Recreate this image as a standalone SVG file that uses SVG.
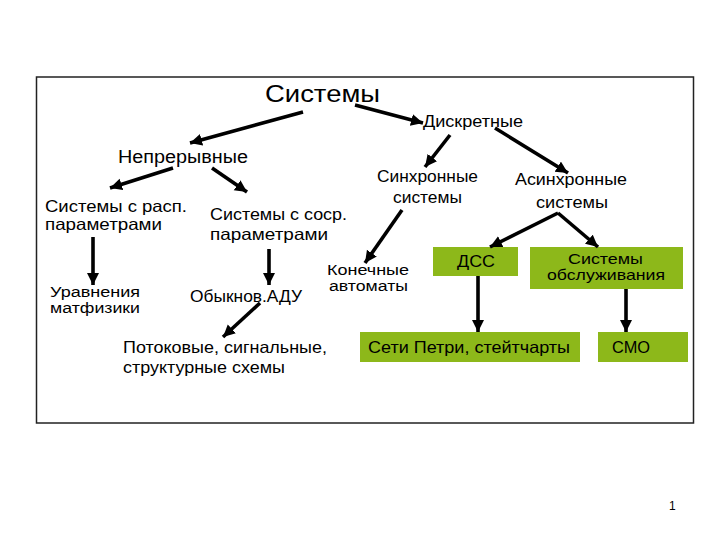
<svg xmlns="http://www.w3.org/2000/svg" width="720" height="540" viewBox="0 0 720 540">
<style>
text{font-family:"Liberation Sans",Arial,sans-serif;fill:#000}
.t16{font-size:16.5px}
.t15{font-size:15px}
.t14{font-size:14px}
.box{fill:#8DB81A}
.c line{stroke:#000;stroke-width:3.6;marker-end:url(#ah)}
</style>
<defs>
<marker id="ah" markerUnits="userSpaceOnUse" markerWidth="14" markerHeight="14" refX="12" refY="6" orient="auto"><path d="M0,0 L12,6 L0,12 Z" fill="#000"/></marker>
</defs>
<rect width="720" height="540" fill="#fff"/>
<rect x="36.5" y="77" width="657" height="346" fill="none" stroke="#222" stroke-width="1.5"/>
<g id="n-sys"><text x="265" y="102" font-size="24" textLength="115" lengthAdjust="spacingAndGlyphs">Системы</text></g>
<g id="n-disc"><text class="t16" x="423" y="127" textLength="100" lengthAdjust="spacingAndGlyphs">Дискретные</text></g>
<g id="n-cont"><text x="118" y="163" font-size="18" textLength="130" lengthAdjust="spacingAndGlyphs">Непрерывные</text></g>
<g id="n-rasp"><text class="t16" x="45" y="212" textLength="142" lengthAdjust="spacingAndGlyphs">Системы с расп.</text><text class="t16" x="45" y="230" textLength="117" lengthAdjust="spacingAndGlyphs">параметрами</text></g>
<g id="n-sosr"><text class="t16" x="210" y="220" textLength="137" lengthAdjust="spacingAndGlyphs">Системы с соср.</text><text class="t16" x="210" y="240" textLength="118" lengthAdjust="spacingAndGlyphs">параметрами</text></g>
<g id="n-sync"><text class="t16" x="377" y="182" textLength="101" lengthAdjust="spacingAndGlyphs">Синхронные</text><text class="t16" x="393" y="203" textLength="69" lengthAdjust="spacingAndGlyphs">системы</text></g>
<g id="n-async"><text class="t16" x="515" y="185" textLength="112" lengthAdjust="spacingAndGlyphs">Асинхронные</text><text class="t16" x="536" y="208" textLength="72" lengthAdjust="spacingAndGlyphs">системы</text></g>
<g id="n-urav"><text class="t14" x="50" y="297" textLength="90" lengthAdjust="spacingAndGlyphs">Уравнения</text><text class="t14" x="50" y="313" textLength="90" lengthAdjust="spacingAndGlyphs">матфизики</text></g>
<g id="n-adu"><text class="t16" x="190" y="302" textLength="112" lengthAdjust="spacingAndGlyphs">Обыкнов.АДУ</text></g>
<g id="n-kon"><text class="t14" x="327" y="275" textLength="82" lengthAdjust="spacingAndGlyphs">Конечные</text><text class="t14" x="329" y="291" textLength="79" lengthAdjust="spacingAndGlyphs">автоматы</text></g>
<g id="n-potok"><text class="t16" x="123" y="353" textLength="204" lengthAdjust="spacingAndGlyphs">Потоковые, сигнальные,</text><text class="t16" x="123" y="373" textLength="162" lengthAdjust="spacingAndGlyphs">структурные схемы</text></g>
<g id="n-dss"><rect class="box" x="433" y="247" width="85" height="29"/><text class="t16" x="457" y="267" textLength="38" lengthAdjust="spacingAndGlyphs">ДСС</text></g>
<g id="n-obsl"><rect class="box" x="530" y="247" width="153" height="42"/><text class="t15" x="568" y="264" textLength="75" lengthAdjust="spacingAndGlyphs">Системы</text><text class="t15" x="547" y="280" textLength="118" lengthAdjust="spacingAndGlyphs">обслуживания</text></g>
<g id="n-petri"><rect class="box" x="360" y="332" width="220" height="30"/><text class="t16" x="368" y="353" textLength="202" lengthAdjust="spacingAndGlyphs">Сети Петри, стейтчарты</text></g>
<g id="n-smo"><rect class="box" x="598" y="332" width="90" height="30"/><text class="t16" x="612" y="353" textLength="38" lengthAdjust="spacingAndGlyphs">СМО</text></g>
<g class="c" id="connectors">
<line x1="303" y1="112" x2="190" y2="143"/>
<line x1="355" y1="105" x2="423" y2="123"/>
<line x1="173" y1="168" x2="110" y2="188"/>
<line x1="212" y1="168" x2="247" y2="192"/>
<line x1="450" y1="135" x2="425" y2="167"/>
<line x1="495" y1="128" x2="568" y2="173"/>
<line x1="402" y1="210" x2="365" y2="263"/>
<line x1="558" y1="213" x2="490" y2="247"/>
<line x1="558" y1="213" x2="598" y2="247"/>
<line x1="93" y1="237" x2="93" y2="285"/>
<line x1="269" y1="249" x2="269" y2="285"/>
<line x1="260" y1="303" x2="223" y2="337"/>
<line x1="478" y1="276" x2="478" y2="332"/>
<line x1="626" y1="289" x2="626" y2="332"/>
</g>
<text x="669" y="510" font-size="12">1</text>
</svg>
